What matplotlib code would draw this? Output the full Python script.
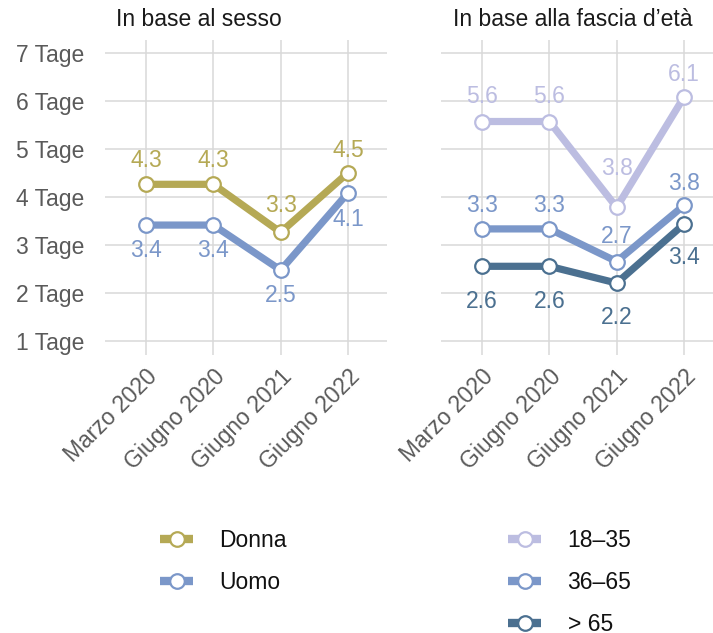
import matplotlib
matplotlib.use("Agg")
import matplotlib.pyplot as plt
from matplotlib.lines import Line2D

plt.rcParams['font.family'] = ['Liberation Sans', 'DejaVu Sans']

# ---- data ----
periods = ["Marzo 2020", "Giugno 2020", "Giugno 2021", "Giugno 2022"]
ytick_vals = [1, 2, 3, 4, 5, 6, 7]
ytick_labels = [f"{v} Tage" for v in ytick_vals]

sex_names = ["Donna", "Uomo"]
donna = [4.27, 4.27, 3.27, 4.51]
uomo = [3.42, 3.42, 2.48, 4.09]

age_names = ["18–35", "36–65", "> 65"]
age_18_35 = [5.58, 5.58, 3.79, 6.09]
age_36_65 = [3.34, 3.34, 2.66, 3.83]
age_65 = [2.56, 2.56, 2.21, 3.44]

title_left = "In base al sesso"
title_right = "In base alla fascia d’età"

# ---- styles ----
C_DONNA = "#b5a955"
C_UOMO = "#7b97c9"
C_1835 = "#bcbde1"
C_3665 = "#7b97c9"
C_65 = "#4b7090"
TICK_C = "#5a5a5a"
GRID_C = "#d9d9d9"
FS = 16.5

W, H = 713, 633
fig = plt.figure(figsize=(W / 100, H / 100), dpi=100)

def px_axes(x0, x1, y0, y1):
    return fig.add_axes([x0 / W, 1 - y1 / H, (x1 - x0) / W, (y1 - y0) / H])

axL = px_axes(105, 387, 40, 355)
axR = px_axes(441, 723, 40, 355)

def style(ax, show_y):
    ax.set_xlim(-0.61, 3.58)
    ax.set_ylim(0.71, 7.28)
    for s in ax.spines.values():
        s.set_visible(False)
    ax.set_xticks(range(len(periods)))
    ax.set_xticklabels(periods, rotation=45, ha="right", va="top",
                       rotation_mode="anchor", color=TICK_C, fontsize=FS)
    ax.set_yticks(ytick_vals)
    if show_y:
        ax.set_yticklabels(ytick_labels, color=TICK_C, fontsize=FS)
    else:
        ax.set_yticklabels([])
    ax.tick_params(axis="both", length=0)
    ax.tick_params(axis="y", pad=15)
    ax.tick_params(axis="x", pad=7)
    ax.grid(True, color=GRID_C, lw=1.1)
    ax.set_axisbelow(True)

style(axL, True)
style(axR, False)

LW = 5.2
MS = 10.5
MEW = 1.6

def draw(ax, vals, color, offsets, label):
    x = list(range(len(vals)))
    ax.plot(x, vals, color=color, lw=LW, marker="o", ms=MS, mfc="white",
            mec=color, mew=MEW, solid_joinstyle="miter", zorder=3, label=label)
    for xi, v, off in zip(x, vals, offsets):
        ax.annotate(f"{v:.1f}", (xi, v), xytext=(0, off), textcoords="offset points",
                    ha="center", va="center", color=color, fontsize=FS,
                    annotation_clip=False, zorder=4)

draw(axL, donna, C_DONNA, [17, 17, 19, 16], sex_names[0])
draw(axL, uomo, C_UOMO, [-18, -18, -18, -19], sex_names[1])

draw(axR, age_18_35, C_1835, [18, 18, 28, 16], age_names[0])
draw(axR, age_36_65, C_3665, [17, 17, 18, 16], age_names[1])
draw(axR, age_65, C_65, [-25, -25, -25, -24], age_names[2])

fig.text(199 / W, 1 - 20 / H, title_left, ha="center", va="center",
         fontsize=FS, color="#1a1a1a")
fig.text(573 / W, 1 - 20 / H, title_right, ha="center", va="center",
         fontsize=FS, color="#1a1a1a")

def legend_handles(colors):
    return [Line2D([0], [0], color=c, lw=6, marker="o", ms=MS, mfc="white",
                   mec=c, mew=MEW, solid_capstyle="butt") for c in colors]

leg_kw = dict(frameon=False, fontsize=FS, handlelength=1.45, handletextpad=1.15,
              labelspacing=0.83, borderaxespad=0, borderpad=0, numpoints=1,
              loc="upper left")
legL = fig.legend(legend_handles([C_DONNA, C_UOMO]), sex_names,
                  bbox_to_anchor=(160 / W, 1 - 529 / H), **leg_kw)
legR = fig.legend(legend_handles([C_1835, C_3665, C_65]), age_names,
                  bbox_to_anchor=(508 / W, 1 - 529 / H), **leg_kw)
for leg in (legL, legR):
    for t in leg.get_texts():
        t.set_color("#111111")

fig.savefig("out.png", dpi=100)
